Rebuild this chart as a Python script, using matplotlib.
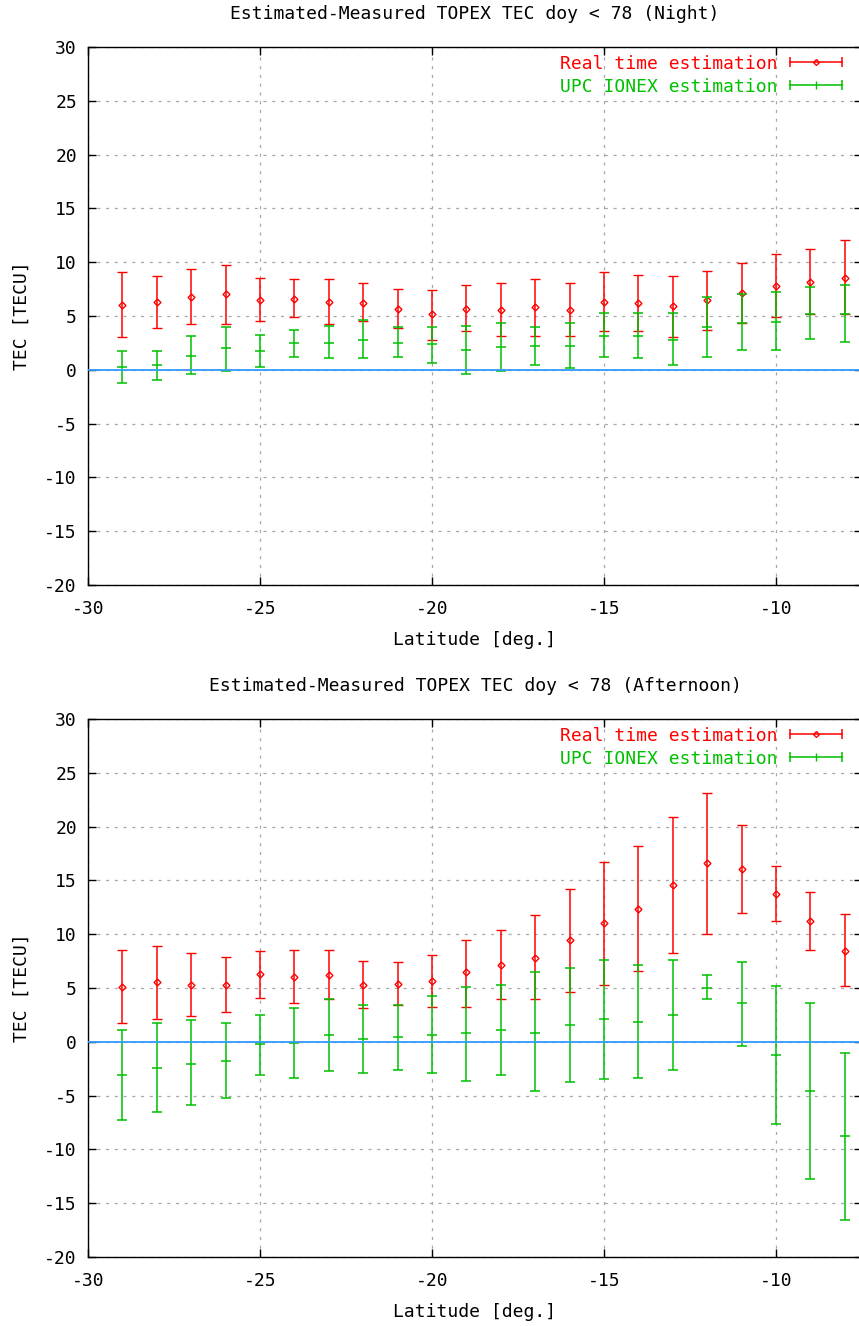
import numpy as np
import matplotlib
matplotlib.use("Agg")
import matplotlib.pyplot as plt
from matplotlib.lines import Line2D
from matplotlib.legend_handler import HandlerBase

# ---------------- data ----------------
latitude = [-29, -28, -27, -26, -25, -24, -23, -22, -21, -20, -19,
            -18, -17, -16, -15, -14, -13, -12, -11, -10, -9, -8]

# Night
night_rt = [6.06, 6.34, 6.72, 7.0, 6.47, 6.59, 6.34, 6.19, 5.69, 5.16, 5.69,
            5.56, 5.81, 5.56, 6.34, 6.22, 5.94, 6.47, 7.125, 7.78, 8.19, 8.56]
night_rt_lo = [3.03, 3.84, 4.22, 4.22, 4.5, 4.875, 4.22, 4.5, 3.84, 2.78, 3.56,
               3.16, 3.16, 3.16, 3.56, 3.56, 3.03, 3.69, 4.34, 4.875, 5.16, 5.16]
night_rt_hi = [9.09, 8.69, 9.34, 9.75, 8.56, 8.44, 8.44, 8.06, 7.5, 7.375, 7.9,
               8.03, 8.44, 8.03, 9.09, 8.84, 8.69, 9.22, 9.9, 10.8, 11.19, 12.1]
night_upc = [0.28, 0.41, 1.31, 2.0, 1.72, 2.5, 2.5, 2.78, 2.5, 2.375, 1.84,
             2.125, 2.25, 2.25, 3.16, 3.16, 2.78, 3.94, 4.34, 4.47, 5.22, 5.22]
night_upc_lo = [-1.19, -0.91, -0.375, -0.125, 0.28, 1.19, 1.06, 1.06, 1.19, 0.66, -0.375,
                -0.125, 0.4, 0.125, 1.19, 1.06, 0.4, 1.19, 1.84, 1.84, 2.9, 2.625]
night_upc_hi = [1.72, 1.72, 3.16, 3.97, 3.28, 3.69, 4.09, 4.625, 3.97, 3.97, 4.09,
                4.34, 3.97, 4.34, 5.28, 5.28, 5.28, 6.72, 7.0, 7.25, 7.66, 7.9]

# Afternoon
aft_rt = [5.125, 5.53, 5.28, 5.28, 6.31, 6.06, 6.19, 5.28, 5.4, 5.66, 6.47,
          7.125, 7.78, 9.47, 11.06, 12.34, 14.6, 16.6, 16.06, 13.69, 11.19, 8.44]
aft_rt_lo = [1.72, 2.125, 2.375, 2.78, 4.09, 3.56, 3.97, 3.16, 3.44, 3.28, 3.28,
             3.94, 3.94, 4.6, 5.25, 6.6, 8.28, 10.0, 11.97, 11.19, 8.56, 5.16]
aft_rt_hi = [8.53, 8.94, 8.28, 7.9, 8.4, 8.53, 8.53, 7.5, 7.375, 8.03, 9.47,
             10.4, 11.75, 14.22, 16.72, 18.16, 20.9, 23.16, 20.125, 16.3, 13.94, 11.84]
aft_upc = [-3.09, -2.45, -2.06, -1.82, -0.25, -0.125, 0.66, 0.28, 0.4, 0.66, 0.8,
           1.06, 0.78, 1.59, 2.125, 1.84, 2.5, 5.0, 3.56, -1.19, -4.6, -8.8]
aft_upc_lo = [-7.27, -6.5, -5.88, -5.24, -3.09, -3.33, -2.7, -2.94, -2.58, -2.94, -3.6,
              -3.09, -4.6, -3.73, -3.48, -3.375, -2.6, 3.94, -0.375, -7.625, -12.75, -16.56]
aft_upc_hi = [1.06, 1.72, 2.0, 1.72, 2.5, 3.16, 3.97, 3.44, 3.44, 4.22, 5.125,
              5.28, 6.47, 6.84, 7.625, 7.125, 7.625, 6.19, 7.375, 5.16, 3.56, -1.06]

titles = ["Estimated-Measured TOPEX TEC doy < 78 (Night)",
          "Estimated-Measured TOPEX TEC doy < 78 (Afternoon)"]
series_labels = ["Real time estimation", "UPC IONEX estimation"]
x_label = "Latitude [deg.]"
y_label = "TEC [TECU]"
x_ticks = [-30, -25, -20, -15, -10]
y_ticks = [-20, -15, -10, -5, 0, 5, 10, 15, 20, 25, 30]

# ---------------- style ----------------
RED = "#ff0000"
GREEN = "#00c000"
BLUE = "#3399ff"
FONT = ["DejaVu Sans Mono"]
FS = 13
plt.rcParams["font.family"] = FONT
plt.rcParams["font.size"] = FS


class GnuErrHandler(HandlerBase):
    def __init__(self, color, marker, ms, mfc):
        super().__init__()
        self.color = color
        self.marker = marker
        self.ms = ms
        self.mfc = mfc

    def create_artists(self, legend, orig_handle, xdescent, ydescent,
                       width, height, fontsize, trans):
        y = height / 2 - ydescent
        x0 = -xdescent
        x1 = x0 + width
        line = Line2D([x0, x1], [y, y], color=self.color, lw=1.1)
        caps = Line2D([x0, x1], [y, y], ls="none", marker="|", ms=7,
                      mew=1.1, color=self.color)
        mid = Line2D([(x0 + x1) / 2], [y], ls="none", marker=self.marker,
                     ms=self.ms, mew=1.0, color=self.color, mfc=self.mfc)
        for a in (line, caps, mid):
            a.set_transform(trans)
        return [line, caps, mid]


W, H = 859, 1326
fig = plt.figure(figsize=(W / 100, H / 100), dpi=100)

left_px, right_px = 88, 862
tops = [47, 719]
ax_h = 538

datasets = [
    (night_rt, night_rt_lo, night_rt_hi, night_upc, night_upc_lo, night_upc_hi),
    (aft_rt, aft_rt_lo, aft_rt_hi, aft_upc, aft_upc_lo, aft_upc_hi),
]

lat = np.array(latitude, dtype=float)
for k, (rt, rlo, rhi, up, ulo, uhi) in enumerate(datasets):
    top = tops[k]
    ax = fig.add_axes([left_px / W, 1 - (top + ax_h) / H,
                       (right_px - left_px) / W, ax_h / H])
    rt = np.array(rt); rlo = np.array(rlo); rhi = np.array(rhi)
    up = np.array(up); ulo = np.array(ulo); uhi = np.array(uhi)

    e1 = ax.errorbar(lat, rt, yerr=[rt - rlo, rhi - rt], fmt="D", color=RED,
                     ms=3.5, mfc="none", mew=1.0, elinewidth=1.1, capsize=3.5,
                     capthick=1.1, zorder=3, label=series_labels[0])
    e2 = ax.errorbar(lat, up, yerr=[up - ulo, uhi - up], fmt="_", color=GREEN,
                     ms=7, mew=1.1, elinewidth=1.1, capsize=3.5,
                     capthick=1.1, zorder=4, label=series_labels[1])
    ax.axhline(0, color=BLUE, lw=1.3, zorder=5)

    ax.set_xlim(-30, -7.5)
    ax.set_ylim(-20, 30)
    ax.set_xticks(x_ticks)
    ax.set_yticks(y_ticks)
    ax.set_xticklabels([str(t) for t in x_ticks])
    ax.set_yticklabels([str(t) for t in y_ticks])
    ax.tick_params(direction="in", length=6, width=1, top=True, right=True,
                   labelsize=FS, pad=8, colors="black")
    ax.tick_params(axis="x", pad=11)
    ax.grid(True, color="#a8a8a8", lw=0.9, ls=(0, (2.5, 4.5)))
    ax.set_axisbelow(True)
    for s in ax.spines.values():
        s.set_linewidth(1.0)
        s.set_color("black")

    ax.set_title(titles[k], fontsize=FS, pad=20)
    ax.set_xlabel(x_label, fontsize=FS, labelpad=9)
    ax.set_ylabel(y_label, fontsize=FS, labelpad=10)

    leg = ax.legend(handles=[e1, e2], labels=series_labels,
                    handler_map={e1: GnuErrHandler(RED, "D", 3, "none"),
                                 e2: GnuErrHandler(GREEN, "|", 6, GREEN)},
                    loc="upper right", bbox_to_anchor=(0.974, 0.986),
                    frameon=False, markerfirst=False, borderpad=0,
                    borderaxespad=0, handlelength=2.9, handletextpad=0.65,
                    labelspacing=0.28, labelcolor=[RED, GREEN], fontsize=FS)

fig.savefig("out.png", dpi=100)
